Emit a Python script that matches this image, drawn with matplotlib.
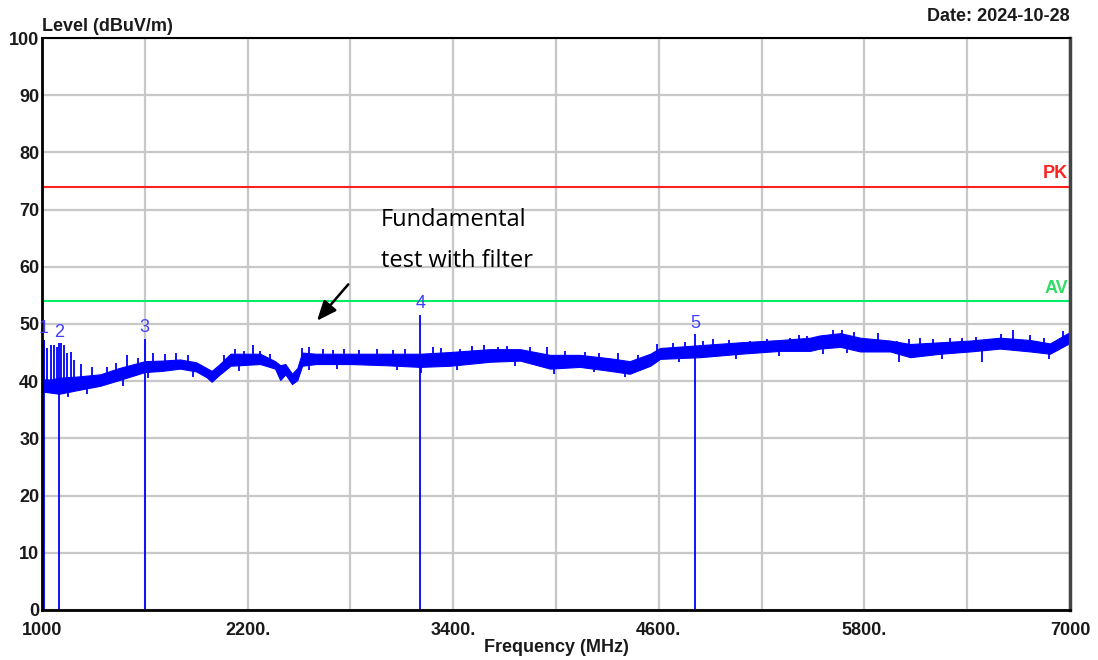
import numpy as np
import matplotlib
matplotlib.use("Agg")
import matplotlib.pyplot as plt

# noise band of the trace (MHz, lower dB, upper dB)
freq = [1000, 1050, 1100, 1200, 1340, 1450, 1600, 1700, 1805, 1900, 1960, 1990,
        2030, 2100, 2273, 2360, 2390, 2420, 2459, 2490, 2518, 2600, 2800, 3000,
        3207, 3382, 3615, 3790, 3965, 4140, 4315, 4430, 4550, 4607, 4840, 5075,
        5308, 5483, 5540, 5660, 5775, 5950, 6067, 6242, 6417, 6592, 6767, 6883,
        6988, 7000]
level_lo = [38.2, 38.0, 37.8, 38.4, 39.2, 40.2, 41.6, 41.8, 42.2, 41.7, 40.7, 39.9,
            41.0, 42.7, 43.0, 42.2, 40.2, 41.2, 39.5, 40.2, 42.7, 43.0, 43.0, 42.8,
            42.5, 42.7, 43.4, 43.6, 42.2, 42.5, 41.8, 41.3, 42.7, 43.9, 44.2, 44.8,
            45.3, 45.3, 45.7, 46.0, 45.2, 45.2, 44.2, 44.8, 45.2, 45.7, 45.2, 44.8,
            46.5, 46.7]
level_hi = [40.3, 40.3, 40.6, 40.8, 41.2, 42.3, 43.5, 43.6, 43.8, 43.3, 42.3, 41.8,
            42.8, 44.8, 44.8, 43.5, 42.8, 43.0, 41.3, 42.3, 45.0, 44.8, 44.8, 44.8,
            44.8, 45.1, 45.6, 45.6, 44.6, 44.6, 44.0, 43.5, 44.8, 45.8, 46.3, 46.8,
            47.2, 47.6, 48.0, 48.4, 47.6, 47.1, 46.5, 46.8, 47.1, 47.6, 47.2, 46.6,
            48.4, 48.6]

# single spikes sticking up out of the band
spike_f = [1012, 1031, 1051, 1070, 1089, 1109, 1128, 1148, 1167, 1187, 1230, 1290,
           1380, 1430, 1494, 1560, 1650, 1720, 1780, 1850, 2060, 2127, 2180, 2232,
           2273, 2330, 2518, 2560, 2640, 2700, 2760, 2850, 2956, 3050, 3120, 3283,
           3330, 3440, 3510, 3580, 3660, 3714, 3850, 3948, 4050, 4170, 4250, 4363,
           4480, 4590, 4680, 4754, 4860, 4917, 5010, 5133, 5230, 5367, 5420, 5466,
           5618, 5670, 5740, 5880, 5991, 6060, 6126, 6200, 6300, 6370, 6450, 6533,
           6600, 6668, 6767, 6850, 6960]
spike_top = [47.2, 45.8, 46.3, 46.3, 46.0, 46.7, 46.3, 45.0, 45.1, 43.7, 43.0, 42.5,
             42.5, 43.2, 44.6, 44.0, 45.0, 44.8, 45.0, 44.5, 44.6, 45.6, 45.2, 46.3,
             45.3, 44.8, 45.8, 46.0, 45.7, 45.4, 45.6, 45.5, 45.6, 45.4, 45.7, 46.0,
             45.8, 45.6, 46.1, 46.3, 46.0, 46.1, 46.0, 46.0, 45.3, 45.1, 44.9, 45.0,
             44.6, 46.5, 46.6, 46.9, 47.0, 47.3, 47.2, 47.1, 47.4, 47.6, 48.0, 47.9,
             49.0, 49.0, 48.6, 48.5, 47.0, 47.3, 47.6, 47.3, 47.5, 47.6, 47.8, 47.3,
             48.3, 49.0, 48.1, 47.6, 48.7]

# single spikes dipping below the band
dip_f = [1150, 1260, 1470, 1620, 1880, 2150, 2560, 2720, 3070, 3210, 3420, 3760,
         3990, 4220, 4400, 4720, 5050, 5300, 5560, 5700, 6000, 6250, 6487, 6880]
dip_bot = [37.3, 37.8, 39.2, 40.6, 40.8, 41.8, 42.0, 42.2, 42.0, 41.4, 41.9, 42.7,
           41.3, 41.6, 40.8, 43.4, 43.9, 44.4, 44.8, 44.9, 43.3, 43.8, 43.4, 43.9]

# markers
mark_no = ["1", "2", "3", "4", "5"]
mark_f = [1010, 1101, 1598, 3207, 4812]
mark_lvl = [47.2, 46.6, 47.4, 51.6, 48.2]

pk_limit = 74
av_limit = 54

fig = plt.figure(figsize=(10.98, 6.6), dpi=100)
ax = fig.add_axes([0.0383, 0.0758, 0.9362, 0.8666])

ax.set_xlim(1000, 7000)
ax.set_ylim(0, 100)
ax.set_xticks(np.arange(1000, 7001, 1200))
ax.set_xticklabels(["1000", "2200.", "3400.", "4600.", "5800.", "7000"])
ax.set_xticks(np.arange(1000, 7001, 600), minor=True)
ax.set_yticks(np.arange(0, 101, 10))
ax.grid(True, which="both", color="#c8c8c8", lw=1.6)
ax.set_axisbelow(True)
ax.tick_params(which="both", length=0)
ax.tick_params(axis="x", pad=9)
ax.tick_params(axis="y", pad=2)
for lab in ax.get_xticklabels() + ax.get_yticklabels():
    lab.set_fontweight("bold")
    lab.set_fontsize(13)
    lab.set_fontfamily("Liberation Sans")
    lab.set_color("#1a1a1a")

for s in ["left", "bottom"]:
    ax.spines[s].set_linewidth(2)
    ax.spines[s].set_color("black")
ax.spines["top"].set_linewidth(1.5)
ax.spines["right"].set_linewidth(2.5)
ax.spines["right"].set_color("#444444")

# limit lines
ax.axhline(pk_limit, color="#ff2020", lw=1.5)
ax.axhline(av_limit, color="#00ee66", lw=1.5)
ax.text(6990, pk_limit + 0.8, "PK", color="#ff2020", fontsize=13, fontweight="bold",
        family="Liberation Sans", ha="right", va="bottom")
ax.text(6990, av_limit + 0.8, "AV", color="#33dd66", fontsize=13, fontweight="bold",
        family="Liberation Sans", ha="right", va="bottom")

# trace
ax.fill_between(freq, level_lo, level_hi, color="#0000ff", lw=0.8, edgecolor="#0000ff")
mid = [(a + b) / 2 for a, b in zip(level_lo, level_hi)]
ax.vlines(spike_f, np.interp(spike_f, freq, mid), spike_top, color="#0000ff", lw=1.3)
ax.vlines(dip_f, dip_bot, np.interp(dip_f, freq, mid), color="#0000ff", lw=1.3)

# marker lines and numbers
ax.vlines(mark_f, 0, mark_lvl, color="#0000ff", lw=1.3)
for n, f, l in zip(mark_no, mark_f, mark_lvl):
    ax.annotate(n, (f, l), xytext=(0, 2), textcoords="offset points", ha="center",
                va="bottom", color="#4040ff", fontsize=13, family="Liberation Sans")

# annotation
ax.text(2979, 67.1, "Fundamental", fontsize=17, family="Open Sans", va="baseline")
ax.text(2979, 60.0, "test with filter", fontsize=17, family="Open Sans", va="baseline")
ax.annotate("", xy=(2594, 50.2), xytext=(2798, 57.3),
            arrowprops=dict(arrowstyle="-|>,head_length=1.2,head_width=0.5",
                            color="black", lw=1.8))

fig.text(42 / 1098, 1 - 31 / 660, "Level (dBuV/m)", fontsize=13, fontweight="bold",
         family="Liberation Sans", ha="left", va="baseline", color="#1a1a1a")
fig.text(1070 / 1098, 1 - 21 / 660, "Date: 2024-10-28", fontsize=13, fontweight="bold",
         family="Liberation Sans", ha="right", va="baseline", color="#1a1a1a")
fig.text(556 / 1098, 1 - 652 / 660, "Frequency (MHz)", fontsize=13, fontweight="bold",
         family="Liberation Sans", ha="center", va="baseline", color="#1a1a1a")

fig.savefig("out.png", dpi=100)
